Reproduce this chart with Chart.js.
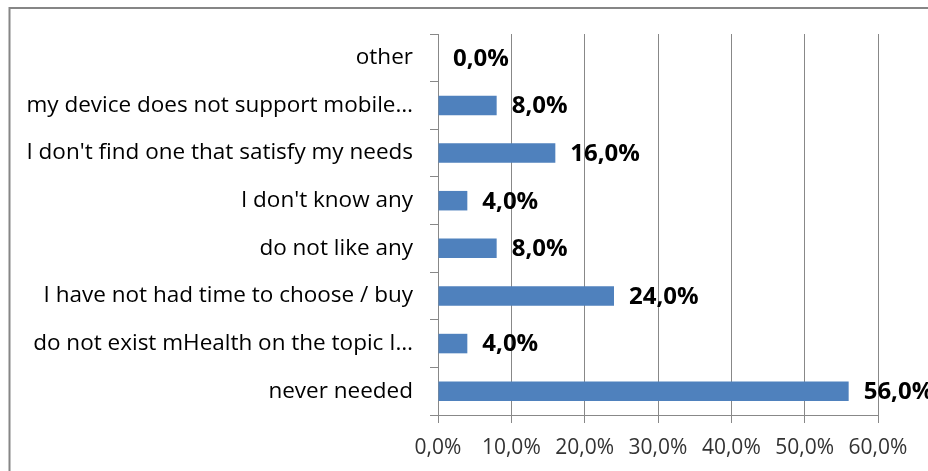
<!DOCTYPE html>
<html>
<head>
<meta charset="utf-8">
<script src="https://cdn.jsdelivr.net/npm/chart.js@4.4.0/dist/chart.umd.min.js"></script>
<style>
  html, body { margin: 0; padding: 0; background: #fff; overflow: hidden; }
  #wrap { width: 928px; height: 471px; }
</style>
</head>
<body>
<div id="wrap"><canvas id="reasonsChart" width="928" height="471"></canvas></div>
<script>
// Reasons for not using mHealth apps, top to bottom
const reasons = [
  'other',
  'my device does not support mobile…',
  "I don't find one that satisfy my needs",
  "I don't know any",
  'do not like any',
  'I have not had time to choose / buy',
  'do not exist mHealth on the topic I…',
  'never needed'
];
const shares = [0, 8, 16, 4, 8, 24, 4, 56];
const axisMax = 60;
const axisStep = 10;

const FONT = '"Open Sans", "Noto Sans", sans-serif';
const GRID = '#888888';

function pct(v) {
  return v.toFixed(1).replace('.', ',') + '%';
}

// gray outline around the whole chart
const framePlugin = {
  id: 'frame',
  beforeDraw(chart) {
    const ctx = chart.ctx;
    ctx.save();
    ctx.strokeStyle = '#868686';
    ctx.lineWidth = 2;
    ctx.strokeRect(9.5, 8, 1000, 1000);
    ctx.restore();
  }
};

// bold value labels to the right of each bar
const valueLabels = {
  id: 'valueLabels',
  afterDatasetsDraw(chart) {
    const ctx = chart.ctx;
    const meta = chart.getDatasetMeta(0);
    ctx.save();
    ctx.font = 'bold 24px ' + FONT;
    ctx.fillStyle = '#000';
    ctx.textAlign = 'left';
    ctx.textBaseline = 'middle';
    meta.data.forEach((bar, i) => {
      ctx.fillText(pct(shares[i]), bar.x + 15, bar.y + 1);
    });
    ctx.restore();
  }
};

new Chart(document.getElementById('reasonsChart'), {
  type: 'bar',
  data: {
    labels: reasons,
    datasets: [{
      data: shares,
      backgroundColor: '#4f81bd',
      borderWidth: 0,
      barPercentage: 0.41,
      categoryPercentage: 1
    }]
  },
  options: {
    indexAxis: 'y',
    responsive: false,
    animation: false,
    devicePixelRatio: 1,
    layout: { padding: { left: 0, top: 34, right: 50, bottom: 0 } },
    plugins: {
      legend: { display: false },
      tooltip: { enabled: false }
    },
    scales: {
      x: {
        min: 0,
        max: axisMax,
        ticks: {
          stepSize: axisStep,
          padding: 12,
          color: '#333',
          font: { family: FONT, size: 21 },
          callback: v => pct(v)
        },
        grid: { color: GRID, lineWidth: 1, tickLength: 8 },
        border: { color: GRID, width: 1 },
        afterFit(scale) { scale.height = 56; }
      },
      y: {
        ticks: {
          padding: 17,
          color: '#000',
          font: { family: FONT, size: 22.5 }
        },
        grid: { offset: true, drawOnChartArea: false, color: GRID, tickLength: 8 },
        border: { color: GRID, width: 1 },
        afterFit(scale) { scale.width = 438; }
      }
    }
  },
  plugins: [framePlugin, valueLabels]
});
</script>
</body>
</html>
